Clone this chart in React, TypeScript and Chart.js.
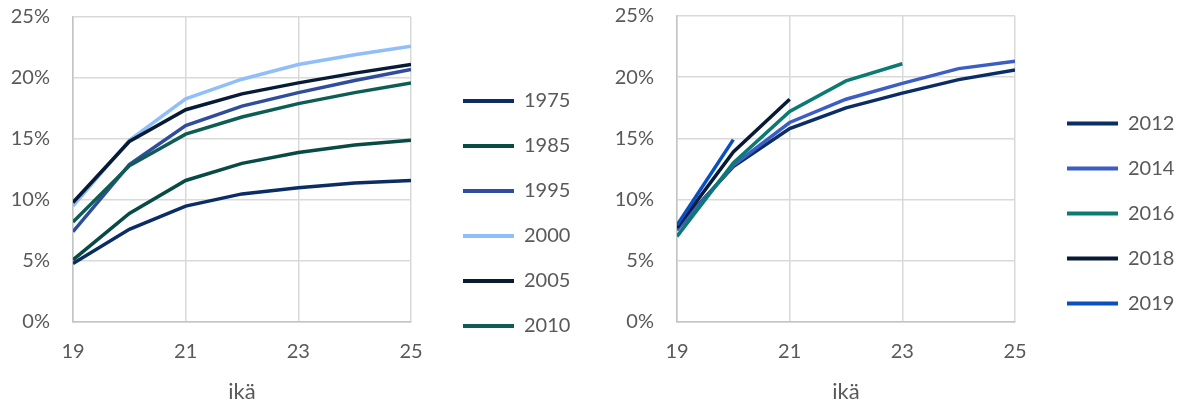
import React, { useEffect, useRef } from "react";
import { Chart, registerables } from "chart.js";

Chart.register(...registerables);

// ---- data ----
const ages = [19, 20, 21, 22, 23, 24, 25];
const xTickValues = [19, 21, 23, 25];
const yTickValues = [0, 5, 10, 15, 20, 25];
const axisTitle = "ikä";

const leftYears = ["1975", "1985", "1995", "2000", "2005", "2010"];
const v1975 = [4.8, 7.6, 9.5, 10.5, 11.0, 11.4, 11.6];
const v1985 = [5.1, 8.9, 11.6, 13.0, 13.9, 14.5, 14.9];
const v1995 = [7.4, 12.9, 16.1, 17.7, 18.8, 19.8, 20.7];
const v2000 = [9.5, 14.9, 18.3, 19.9, 21.1, 21.9, 22.6];
const v2005 = [9.8, 14.8, 17.4, 18.7, 19.6, 20.4, 21.1];
const v2010 = [8.2, 12.8, 15.4, 16.8, 17.9, 18.8, 19.6];
const leftValues = [v1975, v1985, v1995, v2000, v2005, v2010];
const leftColors = ["#0B2D66", "#084A45", "#2F4D9C", "#8FBEFA", "#071A36", "#0E5D55"];

const rightYears = ["2012", "2014", "2016", "2018", "2019"];
const v2012 = [7.7, 12.7, 15.8, 17.5, 18.7, 19.8, 20.6];
const v2014 = [7.5, 12.8, 16.3, 18.2, 19.5, 20.7, 21.3];
const v2016 = [7.0, 13.0, 17.2, 19.7, 21.1];
const v2018 = [7.7, 13.9, 18.2];
const v2019 = [7.9, 14.9];
const rightValues = [v2012, v2014, v2016, v2018, v2019];
const rightColors = ["#0B2D66", "#3C5DC4", "#0A7A72", "#071A36", "#0A4FBF"];

const FONT = "Lato, 'Open Sans', sans-serif";
const TEXT = "#595959";

type Props = {
  width: number;
  height: number;
  years: string[];
  values: number[][];
  colors: string[];
  plotLeft: number;
  plotRight: number;
  plotTop: number;
  plotBottom: number;
  legendLeft: number;
  legendTopBottomSum: number;
};

function LineChart(p: Props) {
  const ref = useRef<HTMLCanvasElement | null>(null);
  useEffect(() => {
    if (!ref.current) return;
    const legendMax = 100;
    const datasets = p.years.map((y, i) => ({
      label: y,
      data: p.values[i].map((v, k) => ({ x: ages[k], y: v })),
      borderColor: p.colors[i],
      backgroundColor: p.colors[i],
      borderWidth: 3.5,
      pointRadius: 0,
      tension: 0,
      order: p.years.length - i,
    }));
    const shiftPlugin = {
      id: "legendShift",
      afterLayout(chart: any) {
        const lg = chart.legend;
        if (!lg) return;
        const w = 150;
        lg.width = w;
        lg.left = p.legendLeft;
        lg.right = p.legendLeft + w;
        lg.top = 0;
        lg.bottom = p.legendTopBottomSum;
        lg.height = p.legendTopBottomSum;
      },
    };
    const chart = new Chart(ref.current, {
      type: "line",
      data: { datasets },
      plugins: [shiftPlugin],
      options: {
        animation: false,
        responsive: false,
        devicePixelRatio: 1,
        layout: {
          autoPadding: false,
          padding: {
            top: p.plotTop,
            left: 0,
            bottom: 0,
            right: p.width - p.plotRight - legendMax,
          },
        },
        plugins: {
          tooltip: { enabled: false },
          legend: {
            position: "right",
            maxWidth: legendMax,
            labels: {
              font: { family: FONT, size: 20 },
              color: TEXT,
              boxWidth: 51,
              boxHeight: 4,
              padding: 25,
              generateLabels: (c: any) =>
                c.data.datasets.map((d: any, i: number) => ({
                  text: d.label,
                  fillStyle: d.borderColor,
                  strokeStyle: d.borderColor,
                  lineWidth: 0,
                  hidden: false,
                  datasetIndex: i,
                  fontColor: TEXT,
                })),
            },
          },
        },
        scales: {
          x: {
            type: "linear",
            min: 19,
            max: 25,
            afterBuildTicks: (s: any) => {
              s.ticks = xTickValues.map((v) => ({ value: v }));
            },
            afterFit: (s: any) => {
              s.height = p.height - p.plotBottom;
              s.paddingLeft = 0;
              s.paddingRight = 0;
            },
            ticks: {
              font: { family: FONT, size: 20 },
              color: TEXT,
              padding: 18,
              maxRotation: 0,
              autoSkip: false,
            },
            grid: { color: "#d9d9d9", lineWidth: 1.5, drawTicks: false },
            border: { color: "#c4c4c4", width: 1.5 },
            title: {
              display: true,
              text: axisTitle,
              font: { family: FONT, size: 22 },
              color: TEXT,
              padding: 0,
            },
          },
          y: {
            min: 0,
            max: 25,
            afterBuildTicks: (s: any) => {
              s.ticks = yTickValues.map((v) => ({ value: v }));
            },
            afterFit: (s: any) => {
              s.width = p.plotLeft;
              s.paddingTop = 0;
              s.paddingBottom = 0;
            },
            ticks: {
              font: { family: FONT, size: 20 },
              color: TEXT,
              padding: 23,
              callback: (v: any) => v + "%",
            },
            grid: { color: "#d9d9d9", lineWidth: 1.5, drawTicks: false },
            border: { color: "#c4c4c4", width: 1.5 },
          },
        },
      },
    } as any);
    return () => chart.destroy();
  }, []);
  return <canvas ref={ref} width={p.width} height={p.height} style={{ display: "block" }} />;
}

export default function App() {
  return (
    <div style={{ position: "absolute", left: 0, top: 0, width: 1183, height: 405, background: "#fff" }}>
      <div style={{ position: "absolute", left: 0, top: 0 }}>
        <LineChart
          width={600}
          height={405}
          years={leftYears}
          values={leftValues}
          colors={leftColors}
          plotLeft={73}
          plotRight={411}
          plotTop={17}
          plotBottom={322}
          legendLeft={438}
          legendTopBottomSum={427}
        />
      </div>
      <div style={{ position: "absolute", left: 600, top: 0 }}>
        <LineChart
          width={583}
          height={405}
          years={rightYears}
          values={rightValues}
          colors={rightColors}
          plotLeft={77}
          plotRight={415}
          plotTop={16}
          plotBottom={322}
          legendLeft={442}
          legendTopBottomSum={427}
        />
      </div>
    </div>
  );
}
